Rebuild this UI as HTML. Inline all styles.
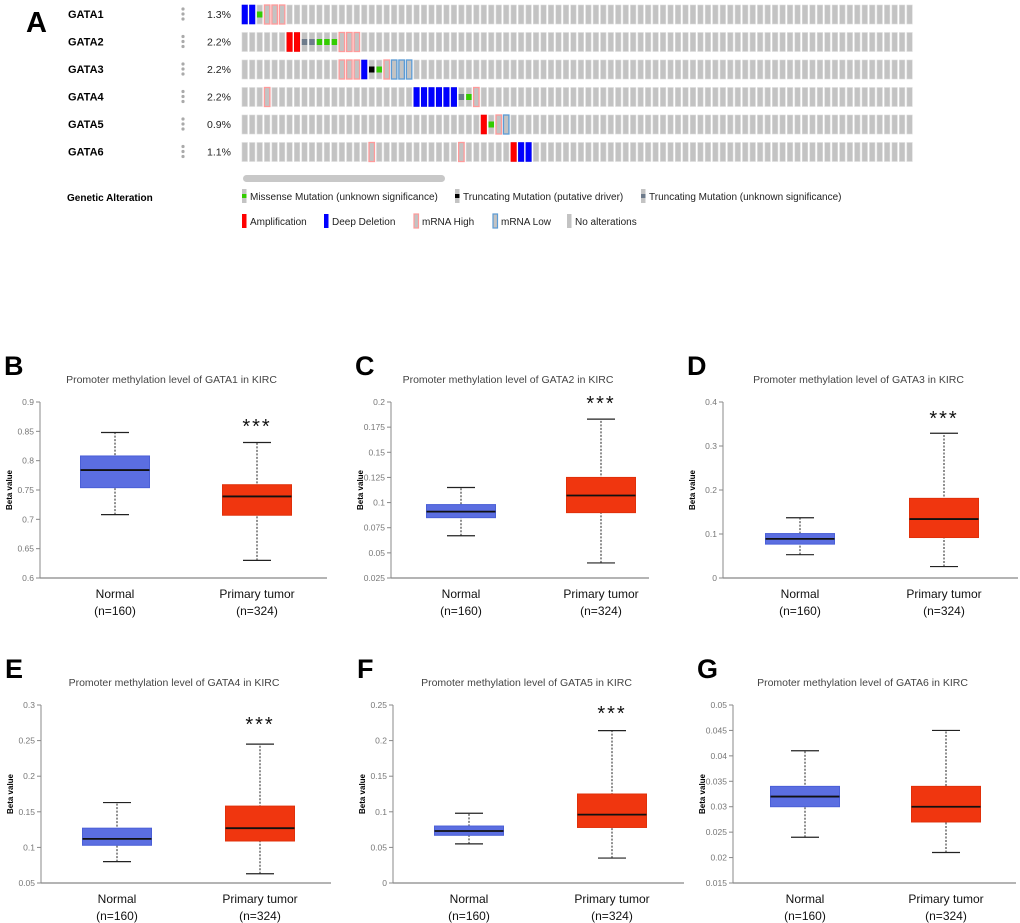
<!DOCTYPE html>
<html><head><meta charset="utf-8"><style>
body{margin:0;background:#fff}
svg{display:block;font-family:"Liberation Sans",sans-serif}
</style></head><body>
<svg id="s" width="1020" height="923" viewBox="0 0 1020 923">
<text x="26" y="32" font-size="29" font-weight="bold">A</text>
<rect x="243" y="175" width="202" height="7" rx="3.5" fill="#c8c8c8"/>
<text x="67" y="201" font-size="10" font-weight="bold">Genetic Alteration</text>
<g id="onco"></g>
<g id="legend"></g>
<g id="plots"></g>
</svg>
<script>
const NS='http://www.w3.org/2000/svg';
function mk(p,t,a){const e=document.createElementNS(NS,t);for(const k in a)e.setAttribute(k,a[k]);p.appendChild(e);return e;}
// Oncoprint data
const genes=['GATA1','GATA2','GATA3','GATA4','GATA5','GATA6'];
const percents=['1.3%','2.2%','2.2%','2.2%','0.9%','1.1%'];
const nSamples=90;
// alteration codes: D deep deletion, A amplification, H mRNA high, L mRNA low, M missense, T trunc driver, U trunc unknown
const alterations=[
 {0:'D',1:'D',2:'M',3:'H',4:'H',5:'H'},
 {6:'A',7:'A',8:'U',9:'U',10:'M',11:'M',12:'M',13:'H',14:'H',15:'H'},
 {13:'H',14:'H',15:'H',16:'D',17:'T',18:'M',19:'H',20:'L',21:'L',22:'L'},
 {3:'H',23:'D',24:'D',25:'D',26:'D',27:'D',28:'D',29:'U',30:'M',31:'H'},
 {32:'A',33:'M',34:'H',35:'L'},
 {17:'H',29:'H',36:'A',37:'D',38:'D'}
];
const onco=document.getElementById('onco');
const x0=242,pitch=7.47,cw=5.5,rowTop=5,rowPitch=27.5,rh=19;
genes.forEach((g,r)=>{
  const y=rowTop+r*rowPitch;
  let t=mk(onco,'text',{x:68,y:y+13,'font-size':11,'font-weight':'bold'});t.textContent=g;
  
  
  for(let k=0;k<3;k++){let c=mk(onco,'circle',{cx:183,cy:y+4+k*5,r:1.6,fill:'#aaa'});
    }
  let p=mk(onco,'text',{x:207,y:y+13,'font-size':10.5,fill:'#222'});p.textContent=percents[r];
  
  
  for(let i=0;i<nSamples;i++){
    const x=x0+i*pitch,a=alterations[r][i];
    let fill='#c3c3c3',stroke='#dcdcdc',sw=0.6;
    if(a==='D'){fill='#0000ff';stroke='#0000ee';}
    else if(a==='A'){fill='#ff0000';stroke='#ee0000';}
    else if(a==='H'){stroke='#ff9a9a';sw=1.3;}
    else if(a==='L'){stroke='#5b9bd5';sw=1.3;}
    const b=mk(onco,'rect',{x:x,y:y,width:cw,height:rh,fill:fill,stroke:stroke,'stroke-width':sw});
    
    
    if(a==='M'||a==='T'||a==='U'){
      const c=a==='M'?'#33cc00':a==='T'?'#000':'#6e7b8b';
      const m=mk(onco,'rect',{x:x,y:y+6.5,width:cw,height:6,fill:c});
      
      
    }
  }
});
// legend
const leg=document.getElementById('legend');
const legItems=[
 [242,199,'M','Missense Mutation (unknown significance)'],
 [455,199,'T','Truncating Mutation (putative driver)'],
 [641,199,'U','Truncating Mutation (unknown significance)'],
 [242,224,'A','Amplification'],[324,224,'D','Deep Deletion'],
 [414,224,'H','mRNA High'],[493,224,'L','mRNA Low'],[567,224,'N','No alterations']];
legItems.forEach(([x,y,a,l])=>{
  let fill='#c3c3c3',stroke='none',sw=0;
  if(a==='A')fill='#ff0000';if(a==='D')fill='#0000ff';
  if(a==='H'){stroke='#ff9a9a';sw=1.2;}if(a==='L'){stroke='#5b9bd5';sw=1.2;}
  let r=mk(leg,'rect',{x:x,y:y-10,width:4.5,height:14,fill:fill,stroke:stroke,'stroke-width':sw});
  
  if(a==='M'||a==='T'||a==='U'){mk(leg,'rect',{x:x,y:y-5,width:4.5,height:4,fill:a==='M'?'#33cc00':a==='T'?'#000':'#6e7b8b'});}
  let t=mk(leg,'text',{x:x+8,y:y+1,'font-size':10,fill:'#222'});t.textContent=l;
  
});
// Boxplot data: [whiskerLow, q1, median, q3, whiskerHigh]
const boxGenes=['GATA1','GATA2','GATA3','GATA4','GATA5','GATA6'];
const normalStats=[[0.708,0.754,0.784,0.808,0.848],[0.067,0.085,0.091,0.098,0.115],[0.053,0.077,0.089,0.101,0.137],[0.080,0.103,0.112,0.127,0.163],[0.055,0.067,0.073,0.080,0.098],[0.024,0.030,0.032,0.034,0.041]];
const tumorStats=[[0.630,0.707,0.739,0.759,0.831],[0.040,0.090,0.107,0.125,0.183],[0.026,0.092,0.134,0.181,0.329],[0.063,0.109,0.127,0.158,0.245],[0.035,0.078,0.096,0.125,0.214],[0.021,0.027,0.030,0.034,0.045]];
const yTicks=[[0.6,0.65,0.7,0.75,0.8,0.85,0.9],[0.025,0.05,0.075,0.1,0.125,0.15,0.175,0.2],[0,0.1,0.2,0.3,0.4],[0.05,0.1,0.15,0.2,0.25,0.3],[0,0.05,0.1,0.15,0.2,0.25],[0.015,0.02,0.025,0.03,0.035,0.04,0.045,0.05]];
const tickLabels=[['0.6','0.65','0.7','0.75','0.8','0.85','0.9'],['0.025','0.05','0.075','0.1','0.125','0.15','0.175','0.2'],['0','0.1','0.2','0.3','0.4'],['0.05','0.1','0.15','0.2','0.25','0.3'],['0','0.05','0.1','0.15','0.2','0.25'],['0.015','0.02','0.025','0.03','0.035','0.04','0.045','0.05']];
const significant=[true,true,true,true,true,false];
const letters=['B','C','D','E','F','G'];
// layout: axisX, axisEnd, normalCx, tumorCx, top, bottom, starY
const layout=[[40,327,115,257,402,578,425],[391,649,461,601,402,578,402],[723,1018,800,944,402,578,417],[41,331,117,260,705,883,723],[393,684,469,612,705,883,712],[733,1016,805,946,705,883,0]];
const plots=document.getElementById('plots');
boxGenes.forEach((g,i)=>{
  const [ax,ae,nc,tc,top,bot,sy]=layout[i];
  const tk=yTicks[i],lo=tk[0],hi=tk[tk.length-1];
  const Y=v=>bot-(v-lo)/(hi-lo)*(bot-top);
  const grp=mk(plots,'g',{});
  
  
  let L=mk(grp,'text',{x:ax-36,y:top-27,'font-size':27,'font-weight':'bold'});L.textContent=letters[i];
  
  let T=mk(grp,'text',{x:(ax+ae)/2-12,y:top-19,'font-size':10.5,fill:'#444','text-anchor':'middle'});
  T.textContent='Promoter methylation level of '+g+' in KIRC';
  
  mk(grp,'line',{x1:ax,y1:top,x2:ax,y2:bot,stroke:'#888','stroke-width':1});
  mk(grp,'line',{x1:ax,y1:bot,x2:ae,y2:bot,stroke:'#888','stroke-width':1.2});
  tk.forEach((v,j)=>{
    mk(grp,'line',{x1:ax-4,y1:Y(v),x2:ax,y2:Y(v),stroke:'#888'});
    let t=mk(grp,'text',{x:ax-6,y:Y(v)+3,'font-size':8.5,fill:'#777','text-anchor':'end'});t.textContent=tickLabels[i][j];
    
  });
  let yl=mk(grp,'text',{x:0,y:0,'font-size':8,'font-weight':'bold',transform:`translate(${ax-28},${(top+bot)/2}) rotate(-90)`,'text-anchor':'middle'});
  yl.textContent='Beta value';
  [[nc,normalStats[i],'#5b6ee1','#4a5fd6','Normal','(n=160)'],[tc,tumorStats[i],'#f0360f','#e0300a','Primary tumor','(n=324)']].forEach(([cx,s,f,st,nm,n])=>{
    const w=69;
    mk(grp,'line',{x1:cx,y1:Y(s[0]),x2:cx,y2:Y(s[4]),stroke:'#222','stroke-dasharray':'2,1.5','stroke-width':1});
    mk(grp,'line',{x1:cx-14,y1:Y(s[0]),x2:cx+14,y2:Y(s[0]),stroke:'#222','stroke-width':1.2});
    mk(grp,'line',{x1:cx-14,y1:Y(s[4]),x2:cx+14,y2:Y(s[4]),stroke:'#222','stroke-width':1.2});
    let b=mk(grp,'rect',{x:cx-w/2,y:Y(s[3]),width:w,height:Y(s[1])-Y(s[3]),fill:f,stroke:st,'stroke-width':1});
    
    
    mk(grp,'line',{x1:cx-w/2,y1:Y(s[2]),x2:cx+w/2,y2:Y(s[2]),stroke:'#111','stroke-width':1.8});
    let a=mk(grp,'text',{x:cx,y:bot+20,'font-size':12,'text-anchor':'middle',fill:'#111'});a.textContent=nm;
    
    let c=mk(grp,'text',{x:cx,y:bot+37,'font-size':12,'text-anchor':'middle',fill:'#111'});c.textContent=n;
    
  });
  if(significant[i]){
    let s=mk(grp,'text',{x:tc,y:sy+8,'font-size':20,'text-anchor':'middle',fill:'#111','letter-spacing':'2'});s.textContent='***';
    
  }
});
</script>
</body></html>
